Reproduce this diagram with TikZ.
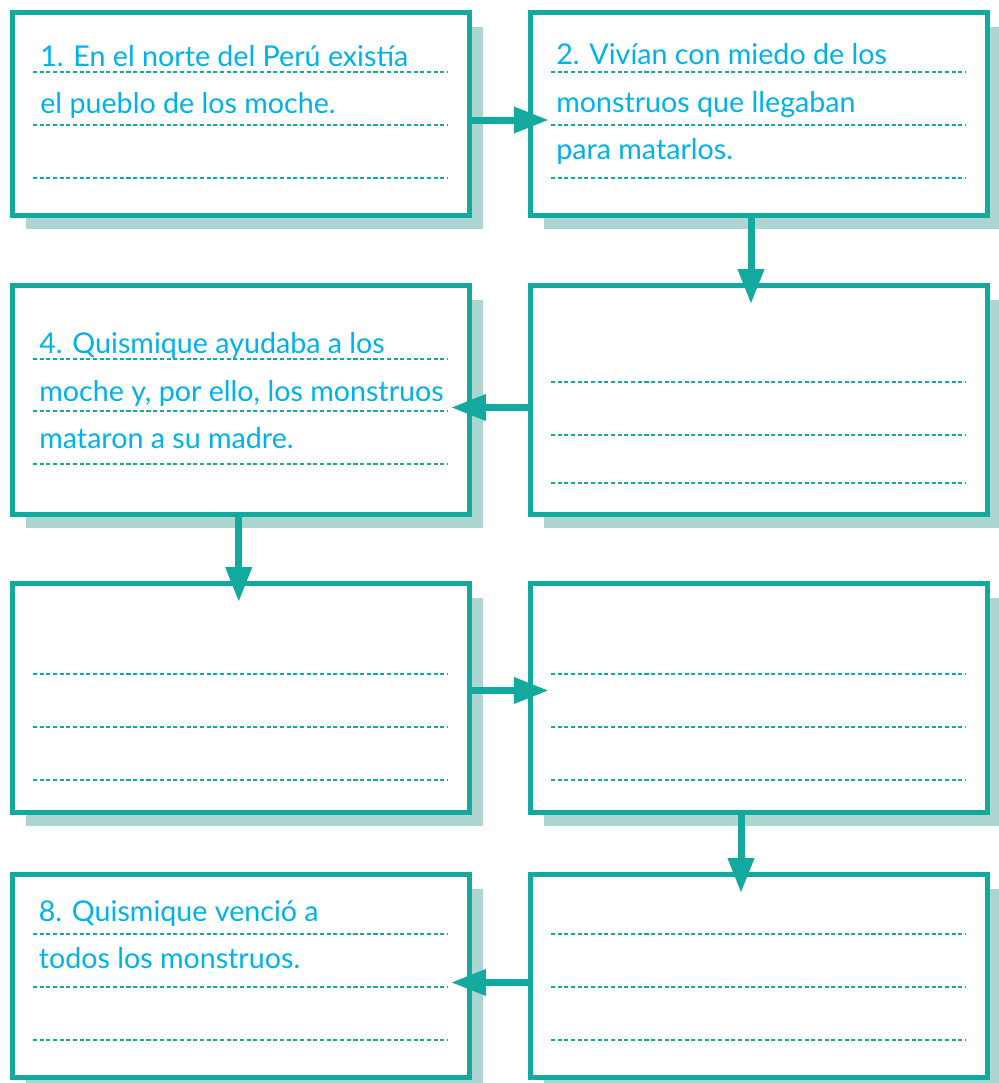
\documentclass[tikz,border=0pt]{standalone}
\usepackage{fontspec}
\setmainfont{Lato}
\usepackage{xcolor}
\usetikzlibrary{arrows.meta,shadows,calc}
\definecolor{verde}{HTML}{12A99E}
\definecolor{sombra}{HTML}{ADD6D2}
\definecolor{celeste}{HTML}{00B2EC}

\begin{document}
\begin{tikzpicture}[x=0.02cm,y=-0.02cm,
	caja/.style={draw=verde,line width=0.1cm,fill=white,minimum width=9.15cm,
		general shadow={fill=sombra,shadow xshift=0.28cm,shadow yshift=-0.28cm}},
	flecha/.style={verde,line width=0.14cm,-{Triangle[length=0.7cm,width=0.5cm]},shorten >=-0.42cm},
	linea/.style={verde,line width=0.8pt,dash pattern=on 2.3pt off 1.5pt},
	texto/.style={celeste,anchor=base west,align=left,inner sep=0pt,font=\fontsize{16.3}{26.9}\selectfont}]
		\useasboundingbox (0,0) rectangle (999,1083);
		% cajas
		\node[caja,minimum height=4.06cm] (uno) at (240.75,114) {};
		\node[caja,minimum height=4.06cm] (dos) at (759,114) {};
		\node[caja,minimum height=4.58cm] (tres) at (759,400) {};
		\node[caja,minimum height=4.58cm] (cuatro) at (240.75,400) {};
		\node[caja,minimum height=4.58cm] (cinco) at (240.75,698) {};
		\node[caja,minimum height=4.58cm] (seis) at (759,698) {};
		\node[caja,minimum height=4.06cm] (siete) at (759,976) {};
		\node[caja,minimum height=4.06cm] (ocho) at (240.75,976) {};
		% renglones
		\foreach \y in {72,125,178,674,727,780,934,987,1040}
			{\draw[linea] (33,\y) -- (448,\y);
			\draw[linea] (551,\y) -- (966,\y);}
		\foreach \y in {359,411,464} \draw[linea] (33,\y) -- (448,\y);
		\foreach \y in {382,435,483} \draw[linea] (551,\y) -- (966,\y);
		% textos (base = ultima linea)
		\node[texto] (t1) at (40,113.5) {1. En el norte del Perú existía\\el pueblo de los moche.};
		\node[texto] (t2) at (556,159.3) {2. Vivían con miedo de los\\monstruos que llegaban\\para matarlos.};
		\node[texto] (t4) at (39,448.3) {4. Quismique ayudaba a los\\moche y, por ello, los monstruos\\mataron a su madre.};
		\node[texto] (t8) at (38.5,968.3) {8. Quismique venció a\\todos los monstruos.};
		% flechas
		\draw[flecha] ([yshift=-0.12cm]uno.east) -- ([yshift=-0.12cm]dos.west);
		\draw[flecha] ([xshift=-0.16cm]dos.south) -- ([xshift=-0.16cm]tres.north);
		\draw[flecha] ([yshift=-0.15cm]tres.west) -- ([yshift=-0.15cm]cuatro.east);
		\draw[flecha] ([xshift=-0.04cm]cuatro.south) -- ([xshift=-0.04cm]cinco.north);
		\draw[flecha] ([yshift=0.15cm]cinco.east) -- ([yshift=0.15cm]seis.west);
		\draw[flecha] ([xshift=-0.36cm]seis.south) -- ([xshift=-0.36cm]siete.north);
		\draw[flecha] ([yshift=-0.13cm]siete.west) -- ([yshift=-0.13cm]ocho.east);
	\end{tikzpicture}
\end{document}
